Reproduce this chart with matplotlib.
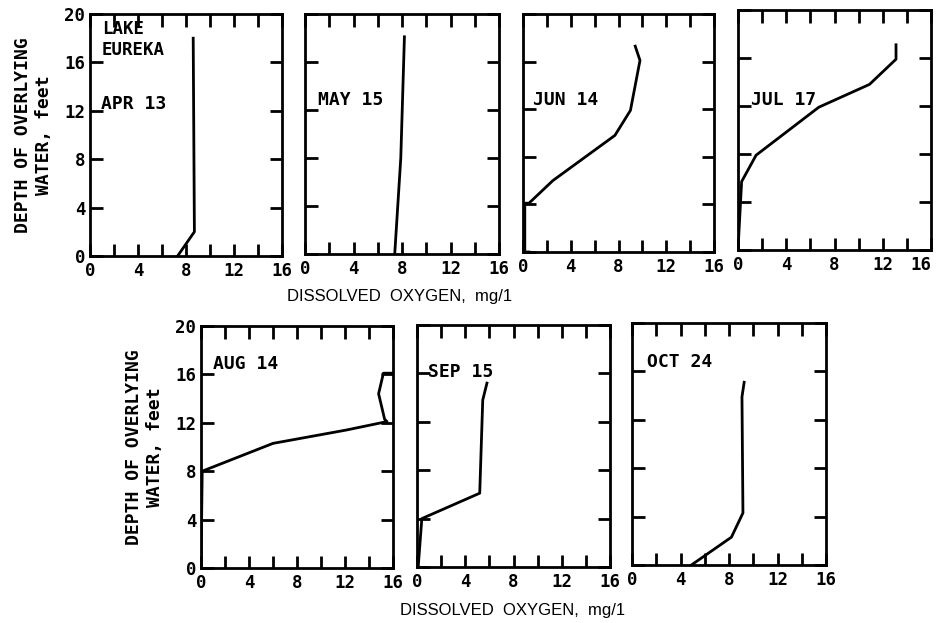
import numpy as np
import matplotlib.pyplot as plt
from matplotlib.ticker import MultipleLocator

plt.rcParams['font.family'] = 'DejaVu Sans Mono'
plt.rcParams['font.weight'] = 'bold'
plt.rcParams['axes.labelweight'] = 'bold'

# dissolved oxygen profiles, Lake Eureka
dates = ["APR 13", "MAY 15", "JUN 14", "JUL 17", "AUG 14", "SEP 15", "OCT 24"]

apr_do = [7.3, 8.7, 8.6]
apr_depth = [0, 2, 18]

may_do = [7.4, 7.9, 8.2]
may_depth = [0, 8, 18.1]

jun_do = [0.5, 0.15, 0.15, 0.5, 2.5, 7.7, 9.0, 9.8, 9.4]
jun_depth = [0, 0, 4.1, 4.1, 6.0, 9.8, 11.9, 16.1, 17.3]

jul_do = [0.0, 0.3, 1.5, 6.7, 10.9, 13.1, 13.1]
jul_depth = [0, 5.7, 7.9, 11.9, 13.8, 15.9, 17.1]

aug_do = [0.0, 0.1, 6.0, 12.1, 15.5, 15.3, 14.8, 15.2, 16.0]
aug_depth = [0, 8.0, 10.3, 11.4, 12.1, 12.3, 14.4, 16.1, 16.1]

sep_do = [0.1, 0.4, 5.2, 5.45, 5.8]
sep_depth = [0, 4.0, 6.1, 13.8, 15.2]

oct_do = [4.9, 8.2, 9.15, 9.07, 9.25]
oct_depth = [0, 2.3, 4.3, 13.9, 15.1]

xticks = [0, 4, 8, 12, 16]
yticks = [0, 4, 8, 12, 16, 20]

profiles = [(apr_do, apr_depth), (may_do, may_depth), (jun_do, jun_depth),
            (jul_do, jul_depth), (aug_do, aug_depth), (sep_do, sep_depth),
            (oct_do, oct_depth)]

# label position (x, y) in data units for each date
label_xy = [(0.9, 12.6), (1.1, 12.8), (0.8, 12.8), (1.1, 12.5),
            (1.0, 16.9), (0.9, 16.1), (1.2, 16.8)]

# panel boxes in pixels: left, top, right, bottom
boxes = [(90, 14, 282, 256), (305, 14, 499, 254), (523, 14, 714, 252),
         (738, 10, 931, 250), (201, 326, 393, 568), (417, 325, 610, 567),
         (632, 323, 826, 565)]

W, H = 938, 623
fig = plt.figure(figsize=(W / 100, H / 100), dpi=100)

for i, ((l, t, r, b), (x, y), date) in enumerate(zip(boxes, profiles, dates)):
    ax = fig.add_axes([l / W, 1 - b / H, (r - l) / W, (b - t) / H])
    ax.plot(x, y, color="black", lw=2.0, solid_joinstyle="round")
    ax.set_xlim(0, 16)
    ax.set_ylim(0, 20)
    ax.set_xticks(xticks, [str(v) for v in xticks])
    ax.xaxis.set_minor_locator(MultipleLocator(2))
    ax.set_yticks(yticks, [str(v) for v in yticks])
    ax.tick_params(which="both", direction="in", top=True, right=True,
                   width=2, length=9, color="black", labelsize=12.5)
    ax.tick_params(axis="x", pad=4)
    for s in ax.spines.values():
        s.set_linewidth(2)
    if i == 3:
        # keep the last label inside the figure
        ax.get_xticklabels()[-1].set_horizontalalignment("right")
        ax.get_xticklabels()[-1].set_x(16.4)
    if i in (0, 4):
        ax.set_ylabel("DEPTH OF OVERLYING\nWATER, feet", fontsize=13,
                      labelpad=8, linespacing=1.25)
    else:
        ax.tick_params(axis="y", labelleft=False)
    lx, ly = label_xy[i]
    ax.text(lx, ly, date, fontsize=13, va="center", ha="left")
    if i == 0:
        ax.text(1.0, 17.9, "LAKE\nEUREKA", fontsize=12.5, va="center",
                ha="left", linespacing=1.2)

fig.text(400 / W, 1 - 297 / H, "DISSOLVED  OXYGEN,  mg/1", ha="center",
         va="center", fontsize=12, family="Liberation Sans", weight="normal")
fig.text(513 / W, 1 - 610 / H, "DISSOLVED  OXYGEN,  mg/1", ha="center",
         va="center", fontsize=12, family="Liberation Sans", weight="normal")

fig.savefig("out.png", dpi=100)
